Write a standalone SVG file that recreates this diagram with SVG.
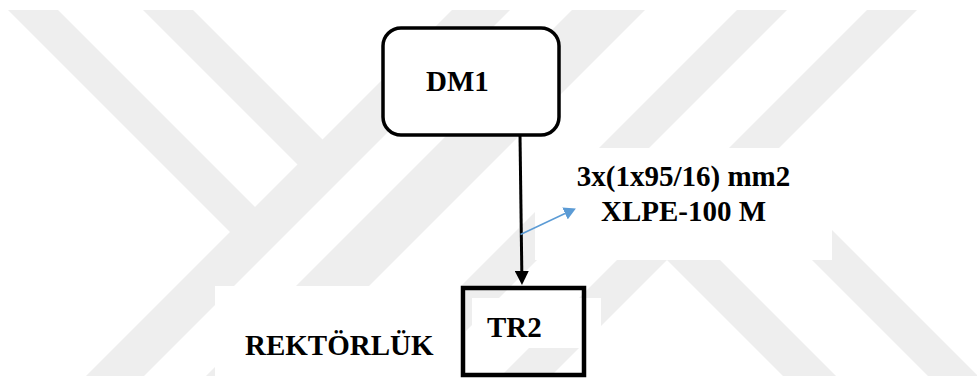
<svg xmlns="http://www.w3.org/2000/svg" width="977" height="383" viewBox="0 0 977 383">
  <style>
    .wm { fill: #eeeeee; }
    .bg { fill: #ffffff; }
    .box { fill: none; stroke: #000000; }
    .lbl { font-weight: bold; font-size: 29px; fill: #000000; }
    .wire { fill: none; stroke: #000000; stroke-width: 3; }
    .pointer { fill: none; stroke: #5b9bd5; stroke-width: 1.5; }
  </style>
  <defs>
    <marker id="arrow-black" markerUnits="userSpaceOnUse" viewBox="0 0 14 14" markerWidth="14" markerHeight="14" refX="0" refY="7" orient="auto">
      <path d="M0,0 L14,7 L0,14 Z" fill="#000000"/>
    </marker>
    <marker id="arrow-blue" markerUnits="userSpaceOnUse" viewBox="0 0 12 13" markerWidth="12" markerHeight="13" refX="0" refY="6.5" orient="auto">
      <path d="M0,0 L12,6.5 L0,13 Z" fill="#5b9bd5"/>
    </marker>
  </defs>

  <rect width="977" height="383" fill="#ffffff"/>

  <!-- faint striped emblem in the background -->
  <g id="watermark">
    <polygon class="wm" points="8,10 58,10 269,221 244,246"/>
    <polygon class="wm" points="143,10 193,10 336.5,153.5 311.5,178.5"/>
    <polygon class="wm" points="452,10 510,10 144,376 86,376"/>
    <polygon class="wm" points="572,10 645,10 279,376 206,376"/>
    <polygon class="wm" points="737,10 787,10 421,376 371,376"/>
    <polygon class="wm" points="867,10 917,10 551,376 501,376"/>
    <polygon class="wm" points="680,220 836,376 783,376 653.5,246.5"/>
    <polygon class="wm" points="751,149 978,376 928,376 726,174"/>
  </g>

  <g font-family="'Liberation Serif', 'Times New Roman', 'DejaVu Serif', serif">
    <!-- distribution point -->
    <g id="node-dm1">
      <rect class="box" x="383" y="28" width="176" height="107" rx="18" ry="18" style="fill:#ffffff" stroke-width="3.5"/>
      <text class="lbl" x="426" y="91">DM1</text>
    </g>

    <!-- cable specification -->
    <g id="cable-label">
      <rect class="bg" x="535" y="148" width="297" height="112"/>
      <text class="lbl" x="683.5" y="185.5" text-anchor="middle">3x(1x95/16) mm2</text>
      <text class="lbl" x="683.5" y="220.5" text-anchor="middle">XLPE-100 M</text>
    </g>

    <!-- transformer -->
    <g id="node-tr2">
      <rect class="bg" x="215" y="286" width="251" height="97"/>
      <rect class="bg" x="472" y="298" width="129" height="50"/>
      <rect class="box" x="463" y="288" width="121" height="87" stroke-width="4.5"/>
      <text class="lbl" x="487" y="337">TR2</text>
      <text class="lbl" x="245" y="355">REKTÖRLÜK</text>
    </g>
  </g>

  <g id="connectors">
    <path class="wire" d="M520,135 L521.8,271" marker-end="url(#arrow-black)"/>
    <path class="pointer" d="M520.5,234.5 L565,213.5" marker-end="url(#arrow-blue)"/>
  </g>
</svg>
